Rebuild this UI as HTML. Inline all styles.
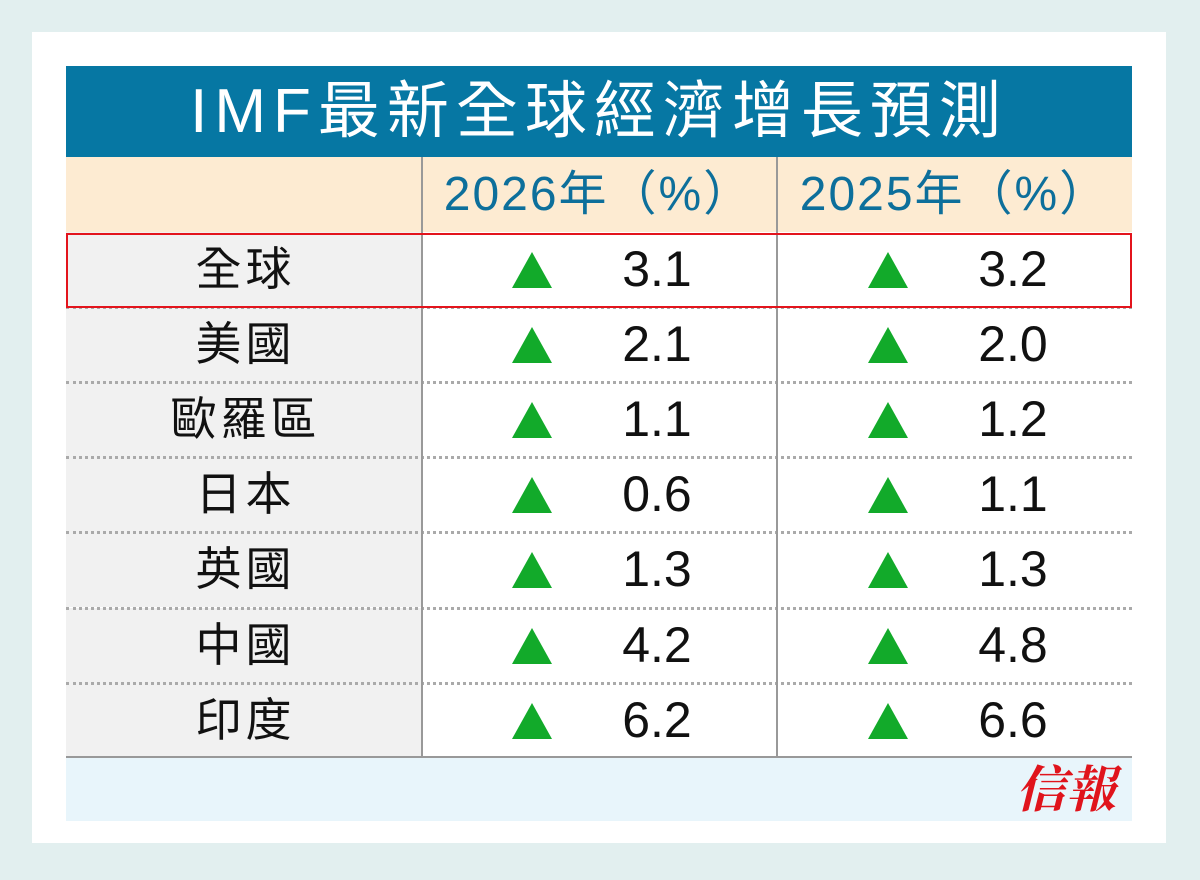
<!DOCTYPE html>
<html><head><meta charset="utf-8">
<style>
body{margin:0;width:1200px;height:880px;background:#e2efef;position:relative;overflow:hidden;font-family:"Liberation Sans","Noto Sans CJK TC",sans-serif}
.abs{position:absolute}
#card{left:32px;top:32px;width:1134px;height:811px;background:#fff}
#title{left:66px;top:66px;width:1066px;height:91px;background:#0677a3;color:#fff;font-size:62px;text-align:center;line-height:91px;letter-spacing:7px}
#hdr{left:66px;top:157px;width:1066px;height:75px;background:#fdebd2}
.h{color:#0d6f9b;font-size:48px;line-height:75px;text-align:center;top:157px;width:355px;letter-spacing:2px}
.lab{left:66px;width:355px;background:#f1f1f1;font-size:46px;color:#111;text-align:center;line-height:75px;letter-spacing:4px;text-indent:4px}
.num{font-size:50px;color:#111;text-align:center;width:150px;line-height:75px;font-weight:300}
.tri{width:0;height:0;border-left:20px solid transparent;border-right:20px solid transparent;border-bottom:36px solid #12aa2a}
.dot{left:66px;width:1066px;height:0;border-top:3px dotted #aaa}
</style></head><body>
<div id="card" class="abs"></div>
<div id="title" class="abs">IMF最新全球經濟增長預測</div>
<div id="hdr" class="abs"></div>
<div class="abs h" style="left:421px">2026年（%）</div>
<div class="abs h" style="left:777px">2025年（%）</div>
<div id="rows"></div>
<div class="abs" style="left:421px;top:157px;width:2px;height:600px;background:#999"></div>
<div class="abs" style="left:776px;top:157px;width:2px;height:600px;background:#999"></div>
<div class="abs" style="left:66px;top:756px;width:1066px;height:2px;background:#999"></div>
<div class="abs" style="left:66px;top:758px;width:1066px;height:63px;background:#e8f5fb"></div>
<div class="abs" style="left:1016px;top:760px;font-size:50px;color:#e0141c;font-weight:bold;font-family:'Liberation Serif','Noto Serif CJK SC',serif;line-height:60px;font-style:italic">信報</div>
<div class="abs" style="left:66px;top:233px;width:1062px;height:71px;border:2px solid #e3141c"></div>
<script>
const regions=["全球","美國","歐羅區","日本","英國","中國","印度"];
const v2026=["3.1","2.1","1.1","0.6","1.3","4.2","6.2"];
const v2025=["3.2","2.0","1.2","1.1","1.3","4.8","6.6"];
const rows=document.getElementById('rows');
function add(cls,style,text){const d=document.createElement('div');d.className='abs '+cls;d.style.cssText=style;if(text!=null)d.textContent=text;rows.appendChild(d);return d;}
regions.forEach((r,i)=>{
  const y=232+i*75.1;
  const l=add('lab',`top:${y}px;height:75px`,r);
  
  
  [[v2026,512,582],[v2025,868,938]].forEach(([arr,tx,nx])=>{
    const t=add('tri',`left:${tx}px;top:${y+20}px`);
    
    
    const n=add('num',`left:${nx}px;top:${y}px`,arr[i]);
    
    
  });
  if(i>0){const d=add('dot',`top:${y-1}px`);
    
    }
});
</script>
</body></html>
